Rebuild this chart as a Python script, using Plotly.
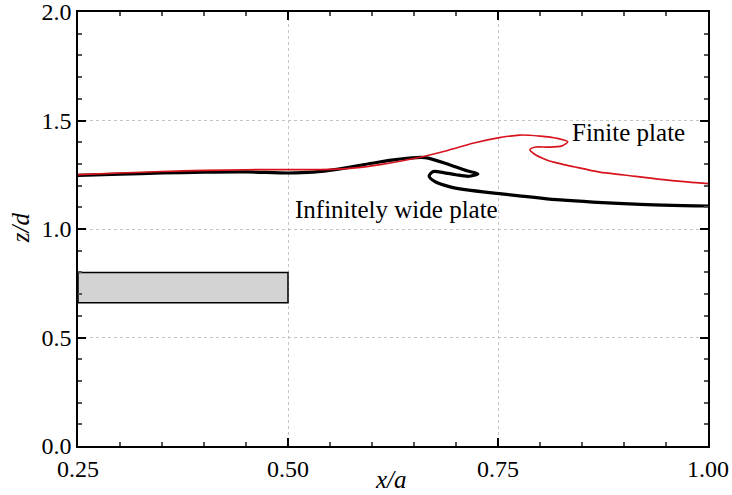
import plotly.graph_objects as go

# Infinitely wide plate (black)
inf_x = [0.25, 0.30, 0.35, 0.40, 0.45, 0.50, 0.53, 0.56, 0.60, 0.63, 0.663,
         0.693, 0.713, 0.726, 0.715, 0.70, 0.685, 0.673, 0.668, 0.675, 0.693,
         0.713, 0.752, 0.824, 0.913, 1.00]
inf_y = [1.247, 1.253, 1.258, 1.262, 1.263, 1.258, 1.262, 1.276, 1.303, 1.321, 1.329,
         1.295, 1.268, 1.254, 1.243, 1.250, 1.260, 1.265, 1.244, 1.218, 1.194,
         1.180, 1.163, 1.134, 1.115, 1.106]

# Finite plate (red)
fin_x = [0.25, 0.30, 0.35, 0.40, 0.45, 0.50, 0.55, 0.58, 0.61, 0.65, 0.69, 0.72,
         0.75, 0.776, 0.80, 0.82, 0.833, 0.826, 0.81, 0.795, 0.788, 0.792, 0.808,
         0.825, 0.84, 0.871, 0.90, 0.943, 1.00]
fin_y = [1.251, 1.258, 1.265, 1.270, 1.273, 1.274, 1.275, 1.282, 1.297, 1.325, 1.362, 1.395,
         1.420, 1.433, 1.428, 1.418, 1.402, 1.383, 1.377, 1.378, 1.365, 1.349, 1.318,
         1.300, 1.287, 1.262, 1.249, 1.229, 1.209]

# Plate cross-section
plate_x = [0.25, 0.50, 0.50, 0.25, 0.25]
plate_y = [0.66, 0.66, 0.80, 0.80, 0.66]

x_ticks = [0.25, 0.50, 0.75, 1.00]
y_ticks = [0.0, 0.5, 1.0, 1.5, 2.0]

FONT = "Liberation Serif"

fig = go.Figure()
fig.add_trace(go.Scatter(x=plate_x, y=plate_y, mode="lines", fill="toself",
                         fillcolor="#d3d3d3", line=dict(color="black", width=1.5),
                         showlegend=False, hoverinfo="skip"))
fig.add_trace(go.Scatter(x=inf_x, y=inf_y, mode="lines",
                         line=dict(color="black", width=3.2, shape="spline", smoothing=0.8),
                         name="Infinitely wide plate", showlegend=False))
fig.add_trace(go.Scatter(x=fin_x, y=fin_y, mode="lines",
                         line=dict(color="#d7141e", width=1.7, shape="spline", smoothing=0.8),
                         name="Finite plate", showlegend=False))

fig.add_annotation(x=0.506, y=1.092, text="Infinitely wide plate", showarrow=False,
                   xanchor="left", yanchor="middle", font=dict(family=FONT, size=25, color="black"))
fig.add_annotation(x=0.836, y=1.447, text="Finite plate", showarrow=False,
                   xanchor="left", yanchor="middle", font=dict(family=FONT, size=25, color="black"))

# axis titles
fig.add_annotation(xref="paper", yref="paper", x=0.497, y=-0.078, text="<i>x/a</i>",
                   showarrow=False, xanchor="center", yanchor="middle",
                   font=dict(family=FONT, size=25, color="black"))
fig.add_annotation(xref="paper", yref="paper", x=-0.092, y=0.502, text="<i>z/d</i>",
                   showarrow=False, xanchor="center", yanchor="middle", textangle=-90,
                   font=dict(family=FONT, size=25, color="black"))

axis_common = dict(showline=True, linecolor="black", linewidth=1.5, mirror="allticks",
                   ticks="inside", ticklen=8, tickwidth=1.5, tickcolor="black",
                   showgrid=True, gridcolor="#c4c4c4", griddash="dot", gridwidth=1,
                   zeroline=False, automargin=False, ticklabeloverflow="allow",
                   tickfont=dict(family=FONT, size=24, color="black"))

fig.update_xaxes(range=[0.25, 1.00], tickvals=x_ticks, ticktext=[f"{v:.2f}" for v in x_ticks],
                 minor=dict(dtick=0.05, tick0=0.25, ticks="inside", ticklen=4, tickcolor="#555555", showgrid=False),
                 **axis_common)
fig.update_yaxes(range=[0.0, 2.0], tickvals=y_ticks, ticktext=[f"{v:.1f}" for v in y_ticks],
                 minor=dict(dtick=0.1, tick0=0.0, ticks="inside", ticklen=4, tickcolor="#555555", showgrid=False),
                 **axis_common)

fig.update_layout(width=732, height=495, margin=dict(l=78, r=24, t=12, b=49),
                  plot_bgcolor="white", paper_bgcolor="white", showlegend=False,
                  font=dict(family=FONT, color="black"))

fig.write_html("out.html")
